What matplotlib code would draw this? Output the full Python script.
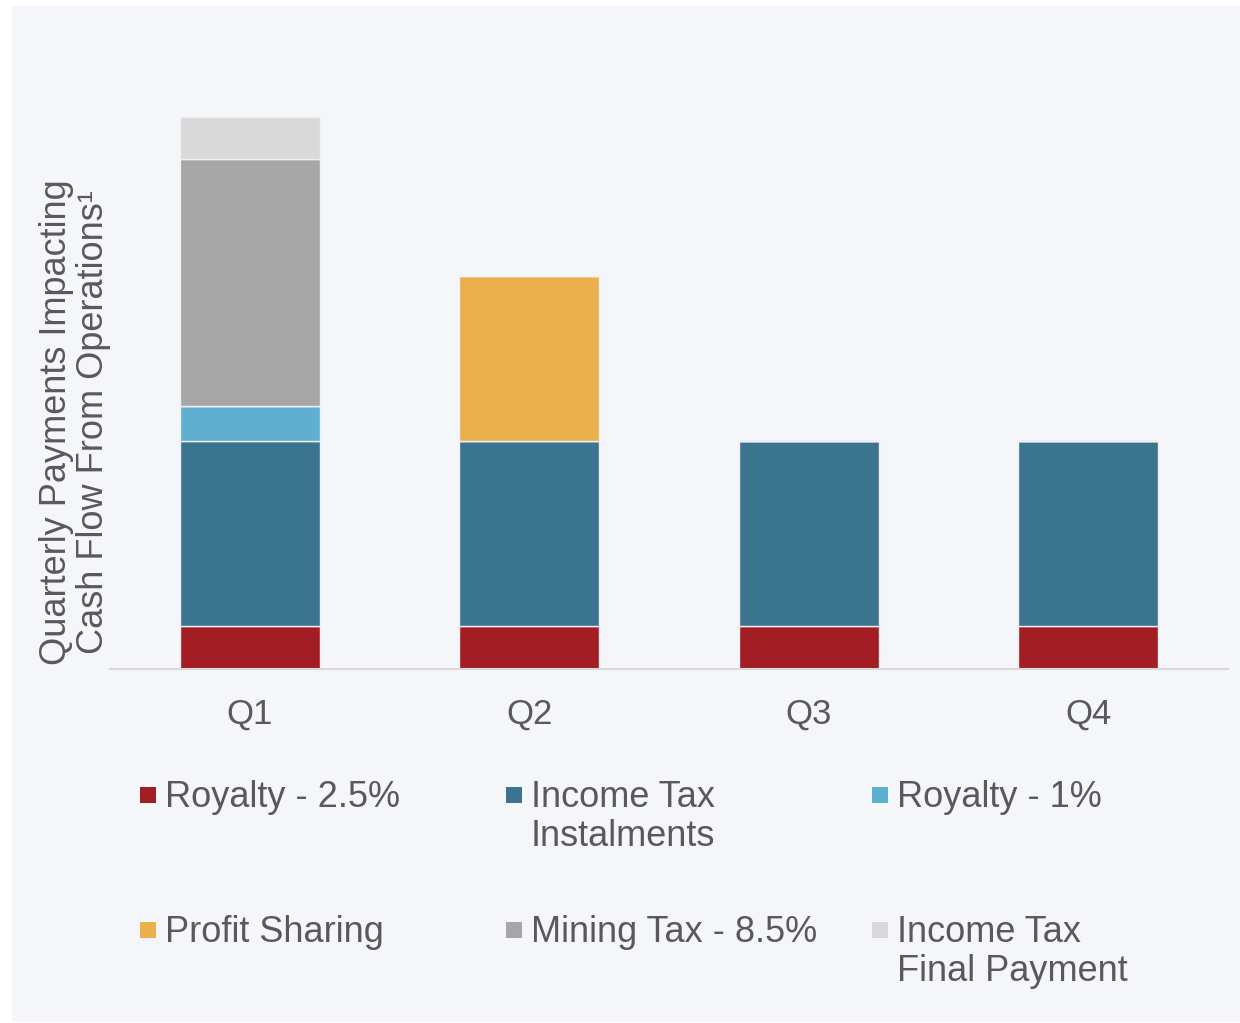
import matplotlib.pyplot as plt
from matplotlib.patches import Rectangle

plt.rcParams['font.family'] = ['Liberation Sans', 'DejaVu Sans']

# quarters and stacked components (relative heights)
quarters = ['Q1', 'Q2', 'Q3', 'Q4']
royalty_25 = [43, 43, 43, 43]
income_tax_inst = [185, 185, 185, 185]
royalty_1 = [35, 0, 0, 0]
profit_sharing = [0, 165, 0, 0]
mining_tax = [247, 0, 0, 0]
income_tax_final = [42, 0, 0, 0]

series = [royalty_25, income_tax_inst, royalty_1, profit_sharing, mining_tax, income_tax_final]
labels = ['Royalty - 2.5%', 'Income Tax\nInstalments', 'Royalty - 1%',
          'Profit Sharing', 'Mining Tax - 8.5%', 'Income Tax\nFinal Payment']
colors = ['#a31d24', '#3b748f', '#5fafd0', '#ebb04c', '#a6a6a6', '#d9d9d9']

txt = '#595959'
bg = '#f5f6fa'

fig = plt.figure(figsize=(12.4, 10.23), dpi=100, facecolor='white')
# light panel behind everything
fig.patches.append(Rectangle((12 / 1240, 0.001), 1 - 12 / 1240, 1 - 6 / 1023 - 0.001,
                             transform=fig.transFigure, facecolor=bg, edgecolor='none', zorder=-1))

ax = fig.add_axes([110 / 1240, 1 - 669 / 1023, 1118 / 1240, 609 / 1023])
ax.set_facecolor('none')

x = range(len(quarters))
bottom = [0] * len(quarters)
for vals, col in zip(series, colors):
    ax.bar(x, vals, width=0.5, bottom=bottom, color=col, edgecolor='#eef0f4', linewidth=1)
    bottom = [b + v for b, v in zip(bottom, vals)]

ax.set_xlim(-0.5, 3.5)
ax.set_ylim(0, 609)
ax.set_yticks([])
ax.set_xticks(list(x))
ax.set_xticklabels(quarters, fontsize=25, color=txt)
ax.tick_params(axis='x', length=0, pad=21)
for s in ['top', 'right', 'left']:
    ax.spines[s].set_visible(False)
ax.spines['bottom'].set_color('#d9d9d9')
ax.spines['bottom'].set_linewidth(1.5)

fig.text(75 / 1240, 1 - 422 / 1023, 'Quarterly Payments Impacting\nCash Flow From Operations\u00b9',
         rotation=90, ha='center', va='center', fontsize=26, color=txt, linespacing=1.1)

# legend, 3 columns x 2 rows
col_x = [140, 506, 872]
row_y = [795, 930]
for i, (lab, col) in enumerate(zip(labels, colors)):
    cx = col_x[i % 3]
    cy = row_y[i // 3]
    fig.patches.append(Rectangle((cx / 1240, 1 - (cy + 8) / 1023), 16 / 1240, 16 / 1023,
                                 transform=fig.transFigure, facecolor=col, edgecolor='none'))
    fig.text((cx + 25) / 1240, 1 - (cy - 15) / 1023, lab, ha='left', va='top',
             fontsize=26, color=txt, linespacing=1.15)

fig.savefig('out.png', dpi=100, facecolor='white')
